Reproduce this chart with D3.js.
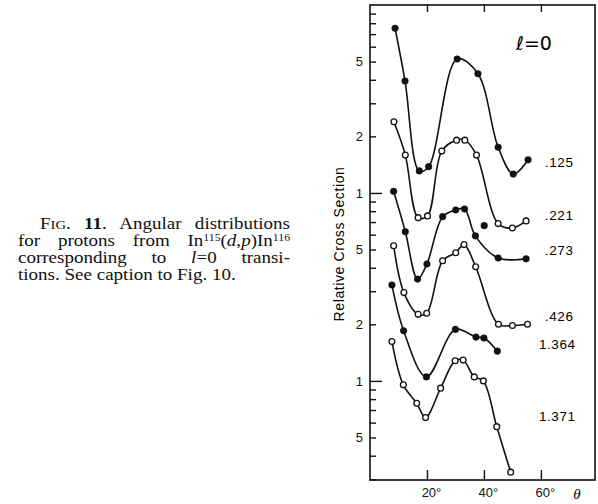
<!DOCTYPE html>
<html>
<head>
<meta charset="utf-8">
<script src="https://cdn.jsdelivr.net/npm/d3@7"></script>
<style>
    body { margin: 0; background: #fff; }
    svg { display: block; }
    .axis path { display: none; }
    .axis line { stroke: #111; stroke-width: 1.4px; }
    .axis text { font-family: "Liberation Sans", Arial, sans-serif; font-size: 13px; fill: #111; }
    .caption { font-family: "Liberation Serif", "DejaVu Serif", serif; font-size: 17px; fill: #111; }
</style>
</head>
<body>
<div id="chart"></div>
<script>

// values: theta in degrees, relative cross section (log axis)
const labels = [".125", ".221", ".273", ".426", "1.364", "1.371"];

const theta125 = [8.8, 12.3, 17.3, 20.6, 30.6, 37.9, 45.0, 50.3, 55.5];
const sigma125 = [75.2, 39.4, 13.1, 13.8, 51.6, 43.1, 17.5, 12.6, 15.0];

const theta221 = [8.4, 12.4, 16.9, 20.2, 25.2, 30.4, 33.3, 37.4, 45.0, 50.0, 54.8];
const sigma221 = [23.9, 15.9, 7.39, 7.55, 16.7, 19.1, 19.1, 15.9, 6.87, 6.51, 7.10];

const theta273 = [8.3, 12.4, 16.7, 20.0, 25.5, 30.1, 33.2, 37.0, 45.0, 54.8];
const sigma273 = [10.2, 6.22, 3.48, 4.19, 7.48, 8.12, 8.22, 5.91, 4.51, 4.46];
// point of .273 that sits off the drawn curve
const theta273Off = [40.1];
const sigma273Off = [6.70];

const theta426 = [8.3, 11.9, 16.9, 19.9, 25.5, 30.1, 33.0, 37.1, 45.1, 50.0, 55.3];
const sigma426 = [5.24, 2.95, 2.26, 2.29, 4.36, 4.81, 5.31, 4.05, 2.00, 1.97, 2.00];

const theta1364 = [7.7, 11.8, 19.8, 30.0, 37.2, 40.0, 44.7];
const sigma1364 = [3.24, 1.85, 1.05, 1.88, 1.71, 1.69, 1.44];

const theta1371 = [7.7, 11.7, 16.4, 19.5, 24.8, 29.9, 32.7, 36.6, 39.8, 44.5, 49.4];
const sigma1371 = [1.62, 0.953, 0.761, 0.638, 0.915, 1.28, 1.29, 1.05, 1.00, 0.571, 0.327];

const xTicks = [20, 40, 60];
const yTicks = [0.5, 1, 2, 5, 10, 20, 50];

let zip = (t, s) => t.map((d, i) => ({theta: d, sigma: s[i]}));

let seriesData = [
    {label: labels[0], pts: zip(theta125, sigma125), off: []},
    {label: labels[1], pts: zip(theta221, sigma221), off: []},
    {label: labels[2], pts: zip(theta273, sigma273), off: zip(theta273Off, sigma273Off)},
    {label: labels[3], pts: zip(theta426, sigma426), off: []},
    {label: labels[4], pts: zip(theta1364, sigma1364), off: []},
    {label: labels[5], pts: zip(theta1371, sigma1371), off: []}
];

// marker style per series, and where its label sits (theta, sigma)
let filled = {".125": true, ".221": false, ".273": true, ".426": false, "1.364": true, "1.371": false};
let labelAt = {".125": [61.4, 14.6], ".221": [61.4, 7.6], ".273": [61.4, 4.95],
               ".426": [61.4, 2.2], "1.364": [59.3, 1.57], "1.371": [59.3, 0.65]};

let width = 598, height = 504;

let svg = d3.select("#chart").append("svg")
    .attr("width", width)
    .attr("height", height);

// plot frame
let x = d3.scaleLinear().domain([0, 79]).range([370, 595]);
let y = d3.scaleLog().domain([0.297, 100]).range([480, 5]);

svg.append("rect")
    .attr("x", x(0))
    .attr("y", y(100))
    .attr("width", x(79) - x(0))
    .attr("height", y(0.297) - y(100))
    .attr("fill", "none")
    .attr("stroke", "#111")
    .attr("stroke-width", 1.6);

// left axis: a tick for every k*10^n, labels on 1,2,5
let minorVals = [];
[0.1, 1, 10].forEach(dec => {
    for (let k = 1; k <= 9; k++) {
        let v = k * dec;
        if (v >= 0.3 && v <= 99) minorVals.push(+v.toPrecision(2));
    }
});

let leadDigit = v => Math.round(v / Math.pow(10, Math.floor(Math.log10(v) + 1e-9)));

let yAxis = d3.axisLeft(y)
    .tickValues(minorVals)
    .tickSizeInner(-6)
    .tickSizeOuter(0)
    .tickPadding(7)
    .tickFormat(v => yTicks.some(t => Math.abs(t - v) < 1e-6) ? leadDigit(v) : "");

let gy = svg.append("g")
    .attr("class", "axis")
    .attr("transform", "translate(" + x(0) + ",0)")
    .call(yAxis);

// decades get a longer tick
gy.selectAll(".tick line")
    .attr("x2", v => leadDigit(v) === 1 ? 12 : 6);

let xAxis = d3.axisBottom(x)
    .tickValues(xTicks)
    .tickSizeInner(-10)
    .tickSizeOuter(0)
    .tickPadding(8)
    .tickFormat(d => d + "°");

let gx = svg.append("g")
    .attr("class", "axis")
    .attr("transform", "translate(0," + y(0.297) + ")")
    .call(xAxis);

gx.selectAll("text").attr("dx", 4);

svg.append("g")
    .attr("class", "axis")
    .attr("transform", "translate(0," + y(100) + ")")
    .call(d3.axisTop(x).tickValues(xTicks).tickSizeInner(-7).tickSizeOuter(0).tickFormat(""));

svg.append("text")
    .attr("x", 577)
    .attr("y", 499)
    .attr("text-anchor", "middle")
    .style("font-family", "'Liberation Serif', serif")
    .style("font-style", "italic")
    .style("font-size", "15px")
    .text("θ");

svg.append("text")
    .attr("transform", "translate(344,244) rotate(-90)")
    .attr("text-anchor", "middle")
    .style("font-family", "'Liberation Sans', Arial, sans-serif")
    .style("font-size", "14px")
    .style("letter-spacing", "0.6px")
    .text("Relative Cross Section");

svg.append("text")
    .attr("x", 534)
    .attr("y", 50)
    .attr("text-anchor", "middle")
    .style("font-family", "'DejaVu Sans', sans-serif")
    .style("font-size", "19px")
    .text("ℓ=0");

// curves
let line = d3.line()
    .x(d => x(d.theta))
    .y(d => y(d.sigma))
    .curve(d3.curveCatmullRom.alpha(0.5));

svg.selectAll(".fit")
    .data(seriesData)
    .enter()
    .append("path")
    .attr("class", "fit")
    .attr("d", d => line(d.pts))
    .attr("fill", "none")
    .attr("stroke", "#111")
    .attr("stroke-width", 1.6);

// markers
seriesData.forEach(s => {
    let isFilled = filled[s.label];
    svg.append("g")
        .selectAll("circle")
        .data(s.pts.concat(s.off))
        .enter()
        .append("circle")
        .attr("cx", d => x(d.theta))
        .attr("cy", d => y(d.sigma))
        .attr("r", isFilled ? 3.3 : 2.9)
        .attr("fill", isFilled ? "#111" : "#fff")
        .attr("stroke", "#111")
        .attr("stroke-width", isFilled ? 0.5 : 1.3);
});

// energy labels
svg.selectAll(".elabel")
    .data(seriesData)
    .enter()
    .append("text")
    .attr("class", "elabel")
    .attr("x", d => x(labelAt[d.label][0]))
    .attr("y", d => y(labelAt[d.label][1]))
    .attr("dy", "0.35em")
    .style("font-family", "'Liberation Sans', Arial, sans-serif")
    .style("font-size", "13.5px")
    .style("letter-spacing", "0.6px")
    .text(d => d.label);

// caption on the left: a wide book face, so widen the serif a bit
let capScale = 1.12, capLeft = 18;
let capG = svg.append("g")
    .attr("transform", "translate(" + capLeft + ",0) scale(" + capScale + ",1)");

let capLine = (xPos, yPos) => capG.append("text")
    .attr("class", "caption")
    .attr("x", (xPos - capLeft) / capScale)
    .attr("y", yPos);

// justify a line by widening the word gaps up to the right edge
let justify = (t, right) => {
    let node = t.node();
    let x0 = +t.attr("x");
    let target = (right - capLeft) / capScale - x0;
    let gaps = (node.textContent.match(/ /g) || []).length;
    let natural = node.getComputedTextLength();
    if (gaps > 0 && natural < target) {
        t.style("word-spacing", ((target - natural) / gaps) + "px");
    }
};

let l1 = capLine(40, 229);
l1.append("tspan").text("F");
l1.append("tspan").style("font-size", "13px").text("IG");
l1.append("tspan").text(". ");
l1.append("tspan").style("font-weight", "bold").text("11");
l1.append("tspan").text(". Angular distributions");
justify(l1, 290);

let l2 = capLine(18, 246);
l2.append("tspan").text("for protons from In");
l2.append("tspan").attr("dy", -5).style("font-size", "10.5px").text("115");
l2.append("tspan").attr("dy", 5).text("(");
l2.append("tspan").style("font-style", "italic").text("d");
l2.append("tspan").text(",");
l2.append("tspan").style("font-style", "italic").text("p");
l2.append("tspan").text(")In");
l2.append("tspan").attr("dy", -5).style("font-size", "10.5px").text("116");
justify(l2, 290);

let l3 = capLine(18, 263);
l3.append("tspan").text("corresponding to ");
l3.append("tspan").style("font-style", "italic").text("l");
l3.append("tspan").text("=0 transi-");
justify(l3, 290);

capLine(18, 280).text("tions. See caption to Fig. 10.");

</script>
</body>
</html>
